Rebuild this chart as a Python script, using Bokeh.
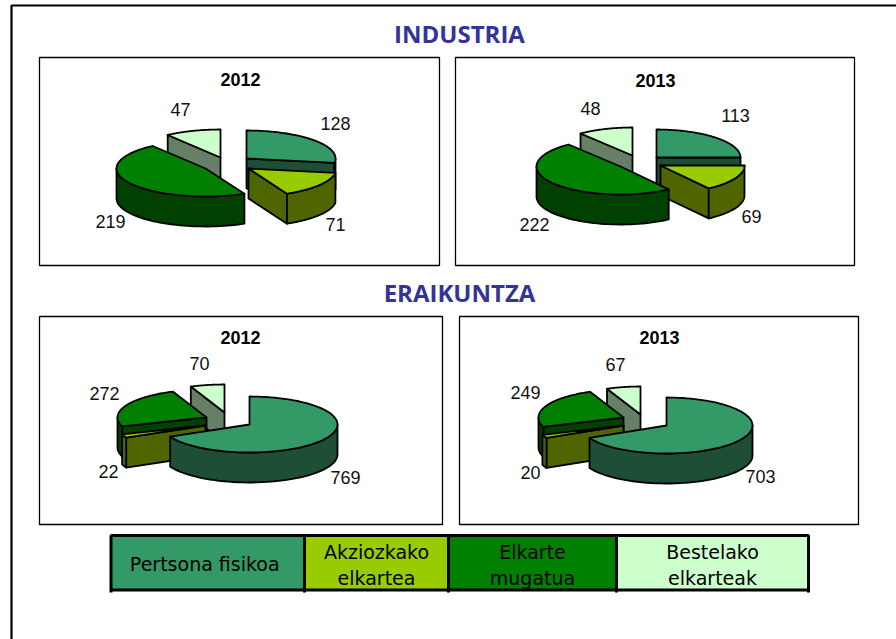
import numpy as np
from bokeh.plotting import figure
from bokeh.core.properties import value
from bokeh.embed import file_html
from bokeh.resources import INLINE

# ---- data ----
sectors = ["Pertsona fisikoa", "Akziozkako elkartea", "Elkarte mugatua", "Bestelako elkarteak"]
industria_2012 = [128, 71, 219, 47]
industria_2013 = [113, 69, 222, 48]
eraikuntza_2012 = [769, 22, 272, 70]
eraikuntza_2013 = [703, 20, 249, 67]
group_titles = ["INDUSTRIA", "ERAIKUNTZA"]
years = ["2012", "2013"]

# ---- style / layout ----
TOP = ["#339966", "#99CC00", "#008000", "#CCFFCC"]
WALL = ["#1E4E36", "#4F6600", "#004000", "#668066"]
RY, DEPTH = 28, 30

panels = [
    dict(vals=industria_2012, frame=(39, 57, 439, 265), title=(240, 79), rx=[89, 88, 89, 89],
         apex=[(246, 158), (248, 168), (205, 168), (220, 157)], order=[3, 0, 1, 2],
         labels=[(335, 123), (335, 224), (110, 221), (180, 109)]),
    dict(vals=industria_2013, frame=(455, 57, 854, 265), title=(655, 80), rx=[84, 84, 84, 84],
         apex=[(656, 157), (660, 165), (620, 166), (632, 155)], order=[3, 0, 1, 2],
         labels=[(735, 115), (751, 216), (534, 224), (590, 108)]),
    dict(vals=eraikuntza_2012, frame=(39, 316, 442, 524), title=(240, 337), rx=[88, 88, 89, 89],
         apex=[(249, 424), (205, 425), (206, 417), (224, 412)], order=[3, 2, 1, 0],
         labels=[(345, 477), (108, 471), (104, 393), (199, 363)]),
    dict(vals=eraikuntza_2013, frame=(459, 316, 858, 524), title=(659, 337), rx=[86, 86, 85, 85],
         apex=[(666, 425), (623, 425), (623, 417), (640, 414)], order=[3, 2, 1, 0],
         labels=[(760, 476), (530, 472), (525, 392), (615, 364)]),
]

p = figure(width=896, height=639, x_range=(0, 896), y_range=(639, 0),
           toolbar_location=None, output_backend="svg", min_border=0)
p.axis.visible = False
p.grid.visible = False
p.outline_line_color = None
p.background_fill_color = "white"
p.border_fill_color = "white"

# outer page frame
p.line([11, 11, 896], [639, 5, 5], line_color="black", line_width=2.2)

LW = 1.8


def face(xs, ys, fill):
    p.patch(list(xs), list(ys), fill_color=fill, line_color="black", line_width=LW,
            line_join="round")


def draw_slice(a0, a1, ax, ay, rx, top, wall):
    ex = lambda t: ax + rx * np.sin(np.radians(t))
    ey = lambda t: ay - RY * np.cos(np.radians(t))
    # radial faces that look towards the viewer
    for t, visible in ((a0, np.sin(np.radians(a0)) < -1e-9), (a1, np.sin(np.radians(a1)) > 1e-9)):
        if visible:
            face([ax, ex(t), ex(t), ax], [ay, ey(t), ey(t) + DEPTH, ay + DEPTH], wall)
    # curved outer wall, only the part that faces the viewer
    lo, hi = max(a0, 90), min(a1, 270)
    if hi > lo:
        th = np.linspace(lo, hi, 50)
        face(np.r_[ex(th), ex(th[::-1])], np.r_[ey(th), ey(th[::-1]) + DEPTH], wall)
    # top
    th = np.linspace(a0, a1, 90)
    face(np.r_[ax, ex(th)], np.r_[ay, ey(th)], top)


for pn in panels:
    x0, y0, x1, y1 = pn["frame"]
    p.quad(left=[x0], right=[x1], top=[y0], bottom=[y1], fill_color="white",
           line_color="black", line_width=1.3)
    v = np.array(pn["vals"], dtype=float)
    edges = np.r_[0, np.cumsum(v)] / v.sum() * 360
    for i in pn["order"]:
        ax, ay = pn["apex"][i]
        draw_slice(edges[i], edges[i + 1], ax, ay, pn["rx"][i], TOP[i], WALL[i])
    lx, ly = zip(*pn["labels"])
    p.text(list(lx), list(ly), text=[str(n) for n in pn["vals"]], text_font=value("Liberation Sans"),
           text_font_size="18px", text_align="center", text_baseline="middle", text_color="#111111")

for pn, yr in zip(panels, years * 2):
    p.text([pn["title"][0]], [pn["title"][1]], text=[yr], text_font=value("Liberation Sans"),
           text_font_style="bold", text_font_size="18px", text_align="center",
           text_baseline="middle", text_color="black")

# group headings
p.text([459, 459], [33, 292], text=group_titles, text_font=value("Open Sans"), text_font_style="bold",
       text_font_size="24px", text_align="center", text_baseline="middle", text_color="#333399")

# legend table
cell_x = [110.5, 304, 448, 616, 808]
cell_top, cell_bot = 535, 589.5
p.quad(left=cell_x[:-1], right=cell_x[1:], top=[cell_top] * 4, bottom=[cell_bot] * 4,
       fill_color=TOP, line_color="black", line_width=3)
p.segment(cell_x, [cell_bot] * 5, cell_x, [592] * 5, line_color="black", line_width=3)
leg_lines = [("Pertsona  fisikoa",), ("Akziozkako", "elkartea"), ("Elkarte", "mugatua"), ("Bestelako", "elkarteak")]
lx, ly, lt = [], [], []
for i, lines in enumerate(leg_lines):
    cx = (cell_x[i] + cell_x[i + 1]) / 2
    ys = [563] if len(lines) == 1 else [551, 577]
    for yy, s in zip(ys, lines):
        lx.append(cx); ly.append(yy); lt.append(s)
p.text(lx, ly, text=lt, text_font=value("DejaVu Sans"), text_font_size="19px",
       text_align="center", text_baseline="middle", text_color="#000000")

open("out.html", "w").write(file_html(p, INLINE))
